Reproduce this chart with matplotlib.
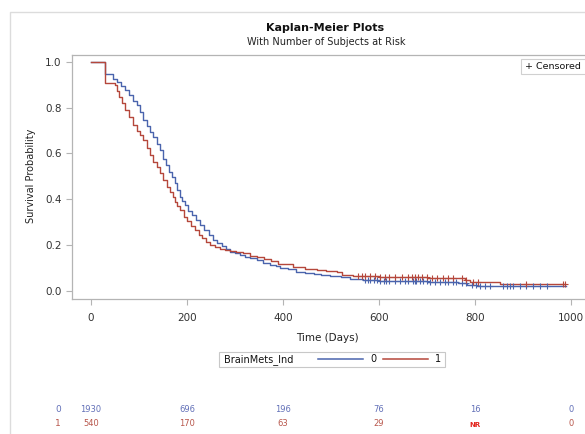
import numpy as np
import matplotlib.pyplot as plt
from matplotlib.patches import Rectangle
from matplotlib.lines import Line2D
from matplotlib.transforms import blended_transform_factory

# Kaplan-Meier step knots (time in days, survival)
t0 = [0, 29, 46, 55, 63, 71, 80, 88, 95, 102, 109, 116, 123, 130, 137, 144,
      150, 157, 163, 168, 174, 180, 185, 190, 196, 203, 210, 218, 227, 236,
      245, 254, 262, 272, 281, 290, 300, 310, 320, 331, 345, 358, 373, 385,
      394, 410, 428, 446, 465, 480, 498, 520, 540, 567, 600, 650, 700, 740,
      765, 783, 805, 824, 990]
s0 = [1.0, 0.945, 0.925, 0.91, 0.895, 0.877, 0.855, 0.83, 0.81, 0.78, 0.746,
      0.72, 0.695, 0.673, 0.64, 0.615, 0.575, 0.55, 0.52, 0.499, 0.47, 0.44,
      0.412, 0.395, 0.376, 0.35, 0.33, 0.31, 0.289, 0.265, 0.245, 0.225,
      0.209, 0.195, 0.182, 0.172, 0.165, 0.158, 0.15, 0.144, 0.135, 0.125,
      0.115, 0.108, 0.103, 0.095, 0.085, 0.08, 0.075, 0.07, 0.066, 0.06,
      0.055, 0.049, 0.046, 0.044, 0.042, 0.04, 0.035, 0.027, 0.024, 0.022,
      0.022]
t1 = [0, 29, 50, 55, 58, 64, 71, 80, 88, 95, 102, 109, 116, 123, 130, 137,
      144, 151, 158, 165, 170, 175, 180, 185, 193, 200, 208, 217, 225, 232,
      240, 248, 258, 268, 279, 290, 303, 317, 331, 345, 360, 375, 390, 400,
      421, 446, 470, 490, 512, 522, 545, 560, 600, 650, 700, 727, 779, 790,
      852, 987]
s1 = [1.0, 0.906, 0.898, 0.87, 0.848, 0.82, 0.79, 0.757, 0.724, 0.70, 0.68,
      0.659, 0.625, 0.594, 0.565, 0.54, 0.514, 0.485, 0.456, 0.43, 0.41,
      0.39, 0.37, 0.354, 0.325, 0.305, 0.285, 0.267, 0.245, 0.23, 0.215,
      0.202, 0.193, 0.186, 0.18, 0.175, 0.17, 0.165, 0.153, 0.147, 0.14,
      0.13, 0.12, 0.118, 0.107, 0.097, 0.092, 0.088, 0.085, 0.071, 0.068,
      0.065, 0.062, 0.06, 0.058, 0.057, 0.049, 0.04, 0.031, 0.031]

cens0 = [571, 578, 582, 590, 596, 603, 610, 615, 620, 634, 644, 654, 661, 671,
         675, 678, 685, 692, 699, 706, 716, 727, 737, 744, 754, 761, 772, 782,
         793, 803, 810, 820, 831, 859, 866, 873, 880, 893, 907, 921, 935, 949]
cens1 = [557, 564, 571, 581, 592, 602, 613, 620, 634, 648, 661, 668, 675, 682,
         689, 699, 710, 720, 734, 744, 755, 772, 782, 796, 807, 907, 983, 987]

risk_times = [0, 200, 400, 600, 800, 1000]
risk0 = ["1930", "696", "196", "76", "16", "0"]
risk1 = ["540", "170", "63", "29", "NR", "0"]

BLUE = "#4a64ad"
RED = "#b5473b"
TBLUE = "#6270b8"
TRED = "#b8574c"
GRID = "#b4b4b4"

fig = plt.figure(figsize=(5.85, 4.34), dpi=100)
fig.patch.set_facecolor("white")

# outer frame
fig.add_artist(Rectangle((10 / 585, -0.2), 1.2, 1.2 - 12 / 434,
                         transform=fig.transFigure, fill=False,
                         edgecolor="#dcdcdc", lw=1.0))

ax = fig.add_axes([72 / 585, 1 - 299 / 434, (630 - 72) / 585, (299 - 55) / 434])
ax.set_xlim(-39.6, (630 - 91) / 0.48)
ax.set_ylim(-0.034, 1.029)

ax.plot(t0, s0, drawstyle="steps-post", color=BLUE, lw=1.0)
ax.plot(t1, s1, drawstyle="steps-post", color=RED, lw=1.0)


def surv_at(tk, sk, times):
    idx = np.searchsorted(tk, times, side="right") - 1
    return np.array(sk)[idx]


ax.plot(cens0, surv_at(t0, s0, cens0), ls="none", marker="+", ms=4.5,
        mew=0.8, color=BLUE)
ax.plot(cens1, surv_at(t1, s1, cens1), ls="none", marker="+", ms=4.5,
        mew=0.8, color=RED)

for sp in ax.spines.values():
    sp.set_color(GRID)
    sp.set_linewidth(0.9)
ax.spines["right"].set_visible(False)

ax.set_xticks([0, 200, 400, 600, 800, 1000])
ax.set_xticklabels(["0", "200", "400", "600", "800", "1000"])
ax.set_yticks([0.0, 0.2, 0.4, 0.6, 0.8, 1.0])
ax.set_yticklabels(["0.0", "0.2", "0.4", "0.6", "0.8", "1.0"])
ax.tick_params(axis="both", colors=GRID, labelcolor="#333333", labelsize=7.5,
               length=4, width=0.8, direction="out")
ax.tick_params(axis="x", pad=6)

ax.set_xlabel("Time (Days)", fontsize=7.5, color="#222222", labelpad=7)
ax.xaxis.set_label_coords((327 - 72) / (630 - 72), -0.14)
fig.text(31 / 585, 1 - 176 / 434, "Survival Probability", rotation=90,
         ha="center", va="center", fontsize=7, color="#222222")

fig.text(325 / 585, 1 - 28 / 434, "Kaplan-Meier Plots", ha="center",
         va="center", fontsize=8, fontweight="bold", color="#111111")
fig.text(326 / 585, 1 - 42 / 434, "With Number of Subjects at Risk",
         ha="center", va="center", fontsize=7, color="#222222")

# censored legend box
fig.add_artist(Rectangle((521 / 585, 1 - 74 / 434), 70 / 585, 15 / 434,
                         transform=fig.transFigure, fill=True,
                         facecolor="white", edgecolor="#d0d0d0", lw=0.8))
fig.text(525 / 585, 1 - 66.5 / 434, "+ Censored", ha="left", va="center",
         fontsize=6.8, color="#111111")

# group legend box
fig.add_artist(Rectangle((219 / 585, 1 - 367 / 434), 226 / 585, 15 / 434,
                         transform=fig.transFigure, fill=False,
                         edgecolor="#c8c8c8", lw=0.8))
fig.text(224 / 585, 1 - 359.5 / 434, "BrainMets_Ind", ha="left", va="center",
         fontsize=7, color="#111111")
fig.add_artist(Line2D([318 / 585, 363 / 585], [1 - 359 / 434] * 2,
                      transform=fig.transFigure, color=BLUE, lw=1.1))
fig.text(370 / 585, 1 - 359.5 / 434, "0", ha="left", va="center",
         fontsize=7, color="#111111")
fig.add_artist(Line2D([383 / 585, 428 / 585], [1 - 359 / 434] * 2,
                      transform=fig.transFigure, color=RED, lw=1.1))
fig.text(435 / 585, 1 - 359.5 / 434, "1", ha="left", va="center",
         fontsize=7, color="#111111")

# at-risk table
tr = blended_transform_factory(ax.transData, fig.transFigure)
fig.text(58 / 585, 1 - 410 / 434, "0", ha="center", va="center",
         fontsize=6.5, color=TBLUE)
fig.text(58 / 585, 1 - 423 / 434, "1", ha="center", va="center",
         fontsize=6.5, color=TRED)
for x, a, b in zip(risk_times, risk0, risk1):
    fig.text(x, 1 - 410 / 434, a, transform=tr, ha="center", va="center",
             fontsize=6, color=TBLUE)
    if b == "NR":
        fig.text(x, 1 - 425 / 434, b, transform=tr, ha="center", va="center",
                 fontsize=5, color="#e3261f", fontweight="bold")
    else:
        fig.text(x, 1 - 423 / 434, b, transform=tr, ha="center", va="center",
                 fontsize=6, color=TRED)

fig.savefig("out.png", dpi=100)
